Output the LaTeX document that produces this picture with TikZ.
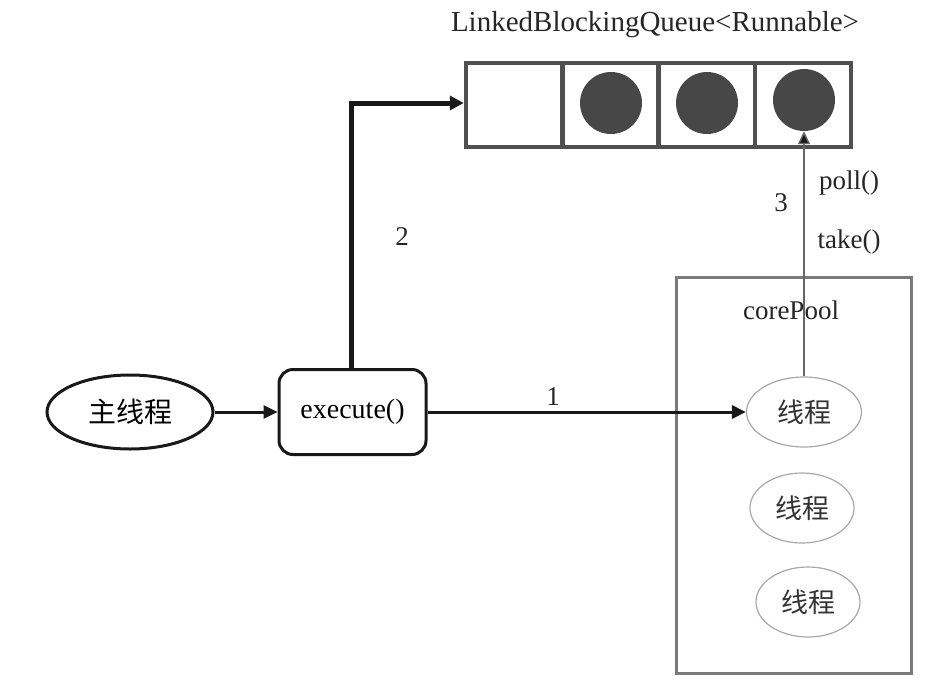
\documentclass[tikz,border=0pt]{standalone}
\usepackage{fontspec}
\setmainfont{Liberation Serif}
\newfontfamily\cjk{Noto Sans CJK SC}
\usetikzlibrary{arrows.meta,shapes.geometric}
\definecolor{qgray}{HTML}{505050}
\definecolor{dotgray}{HTML}{474747}
\definecolor{poolgray}{HTML}{7A7A7A}
\definecolor{thgray}{HTML}{A8A8A8}
\begin{document}
\begin{tikzpicture}[x=1pt,y=-1pt,
  lbl/.style={font=\fontsize{27}{30}\selectfont, text=black!85, inner sep=0pt},
  cell/.style={draw=qgray, line width=4.5pt, minimum width=96pt, minimum height=84pt, inner sep=0pt, fill=white},
  dot/.style={circle, fill=dotgray, minimum size=62pt, inner sep=0pt},
  mainth/.style={ellipse, draw=black!90, line width=3pt, minimum width=166pt, minimum height=74pt, inner sep=0pt, font=\cjk\fontsize{28}{30}\selectfont},
  exec/.style={draw=black!90, line width=3pt, rounded corners=14pt, minimum width=147pt, minimum height=85pt, inner sep=0pt, font=\fontsize{28}{30}\selectfont},
  worker/.style={ellipse, draw=thgray, line width=1.2pt, minimum height=70pt, inner sep=0pt, font=\cjk\fontsize{27}{30}\selectfont, text=black!80},
  bold/.style={line width=5pt, draw=black!90, -{Triangle[length=14pt,width=14pt]}},
  mid/.style={line width=3pt, draw=black!90, -{Triangle[length=14pt,width=13pt]}},
  thin/.style={line width=1.4pt, draw=black!60, -{Triangle[length=13pt,width=12pt,fill=black!90]}}
]
\useasboundingbox (0,0) rectangle (933,696);
\fill[white] (0,0) rectangle (933,696);

% queue title
\node[lbl, font=\fontsize{29}{32}\selectfont] (title) at (655,25) {LinkedBlockingQueue<Runnable>};

% queue cells
\node[cell] (c1) at (514,105) {};
\node[cell] (c2) at (610.5,105) {};
\node[cell] (c3) at (707,105) {};
\node[cell] (c4) at (803,105) {};
\node[dot] (d2) at (611,103) {};
\node[dot] (d3) at (707,103) {};
\node[dot] (d4) at (804,100) {};

% core pool frame
\node[draw=poolgray, line width=3pt, minimum width=235pt, minimum height=396pt, inner sep=0pt] (pool) at (793.5,475) {};
\node[lbl] (pooltitle) at (791,310) {corePool};

% worker threads
\node[worker, minimum width=115pt] (w1) at (804,412) {线程};
\node[worker, minimum width=104pt] (w2) at (802,508) {线程};
\node[worker, minimum width=104pt] (w3) at (808,602) {线程};

% main thread and execute()
\node[mainth] (main) at (130,412) {主线程};
\node[exec] (exe) at (352.5,412) {\raisebox{4pt}{execute()}};

% connectors
\draw[mid] (main) -- (exe);
\draw[mid] (exe.east) -- (w1.west);
\node[lbl] (n1) at (553,397) {1};
\coordinate (bend) at (351,103);
\draw[bold] (exe.north -| bend) -- (bend) -- (c1.west |- bend);
\node[lbl] (n2) at (402,237) {2};
\draw[thin] (w1.north) -- (d4.south);
\node[lbl] (n3) at (781,203) {3};
\node[lbl] (poll) at (849,183) {poll()};
\node[lbl] (take) at (849,242) {take()};
\end{tikzpicture}
\end{document}
